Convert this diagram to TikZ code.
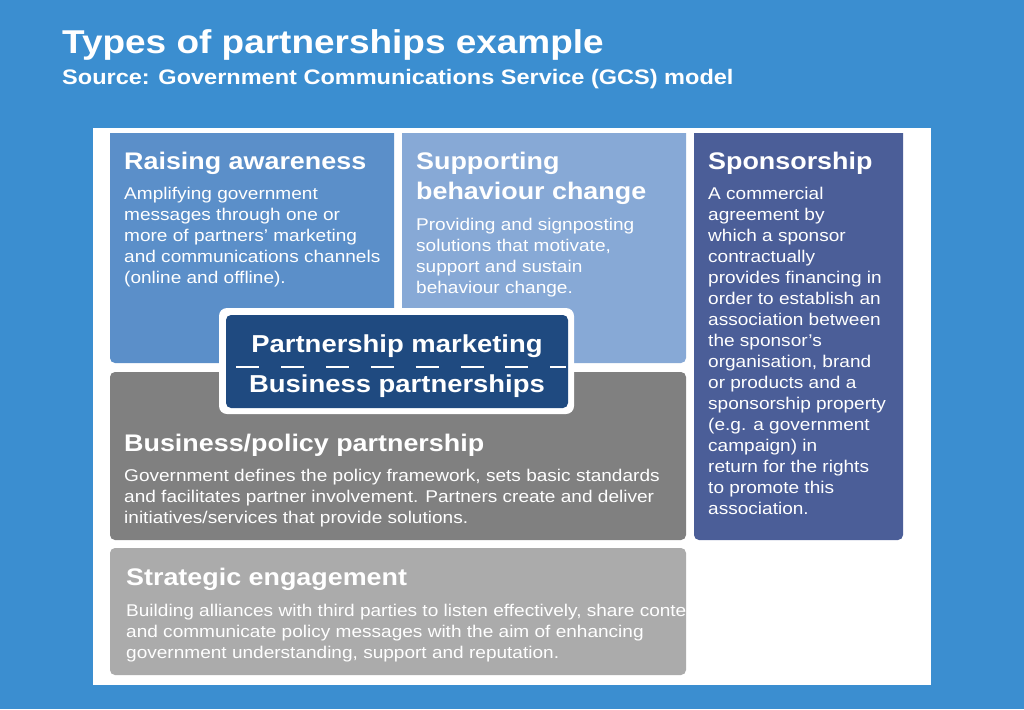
\documentclass[tikz,border=0pt]{standalone}
\usepackage{fontspec}
\setmainfont{Liberation Sans}[FakeStretch=1.12]
\definecolor{bg}{HTML}{3B8ED0}
\definecolor{raise}{HTML}{5B8FC9}
\definecolor{supp}{HTML}{87A9D6}
\definecolor{spons}{HTML}{4B5E98}
\definecolor{busi}{HTML}{808080}
\definecolor{strat}{HTML}{ABABAB}
\definecolor{cent}{HTML}{1F4A80}
\begin{document}
\begin{tikzpicture}[x=1pt,y=-1pt,
  panel/.style={rounded corners=5pt},
  ttl/.style={anchor=north west,align=left,text=white,inner sep=0pt,font=\fontsize{24}{30}\selectfont\bfseries},
  body/.style={anchor=north west,align=left,text=white,inner sep=0pt,font=\fontsize{17}{21}\selectfont}]
\useasboundingbox (0,0) rectangle (1024,709);
\fill[bg] (0,0) rectangle (1024,709);
\node[anchor=west,text=white,inner sep=0pt,font=\fontsize{33}{38}\selectfont\bfseries] (h1) at (62,45) {Types of partnerships example};
\node[anchor=west,text=white,inner sep=0pt,font=\fontsize{21}{26}\selectfont\bfseries] (h2) at (62,79) {Source: Government Communications Service (GCS) model};
\fill[white] (93,133) rectangle (931,685);
\fill[raise,panel] (110,128) rectangle (394,363);
\fill[supp,panel] (402,128) rectangle (686,363);
\fill[spons,panel] (694,128) rectangle (903,540);
\fill[busi,panel] (110,372) rectangle (686,540);
\fill[strat,panel] (110,548) rectangle (686,675);
\fill[white] (93,128) rectangle (931,133);
\node[ttl] (t1) at (124,152) {Raising awareness};
\node[body] (b1) at (124,187) {Amplifying government\\messages through one or\\more of partners’ marketing\\and communications channels\\(online and offline).};
\node[ttl] (t2) at (416,152) {Supporting\\behaviour change};
\node[body] (b2) at (416,218) {Providing and signposting\\solutions that motivate,\\support and sustain\\behaviour change.};
\node[ttl] (t3) at (708,152) {Sponsorship};
\node[body] (b3) at (708,187) {A commercial\\agreement by\\which a sponsor\\contractually\\provides financing in\\order to establish an\\association between\\the sponsor’s\\organisation, brand\\or products and a\\sponsorship property\\(e.g. a government\\campaign) in\\return for the rights\\to promote this\\association.};
\node[ttl] (t4) at (124,434) {Business/policy partnership};
\node[body] (b4) at (124,469) {Government defines the policy framework, sets basic standards\\and facilitates partner involvement. Partners create and deliver\\initiatives/services that provide solutions.};
\node[ttl] (t5) at (126,568) {Strategic engagement};
\node[body] (b5) at (126,604) {Building alliances with third parties to listen effectively, share content\\and communicate policy messages with the aim of enhancing\\government understanding, support and reputation.};
\fill[white,rounded corners=8pt] (219,308) rectangle (574,414);
\fill[cent,rounded corners=5pt] (226,315) rectangle (568,408);
\draw[white,line width=1.5pt,dash pattern=on 23pt off 21.9pt] (236,367) -- (566,367);
\node[text=white,inner sep=0pt,font=\fontsize{24.5}{28}\selectfont\bfseries] (c1) at (397,346) {Partnership marketing};
\node[text=white,inner sep=0pt,font=\fontsize{24.5}{28}\selectfont\bfseries] (c2) at (397,386) {Business partnerships};
\end{tikzpicture}
\end{document}
